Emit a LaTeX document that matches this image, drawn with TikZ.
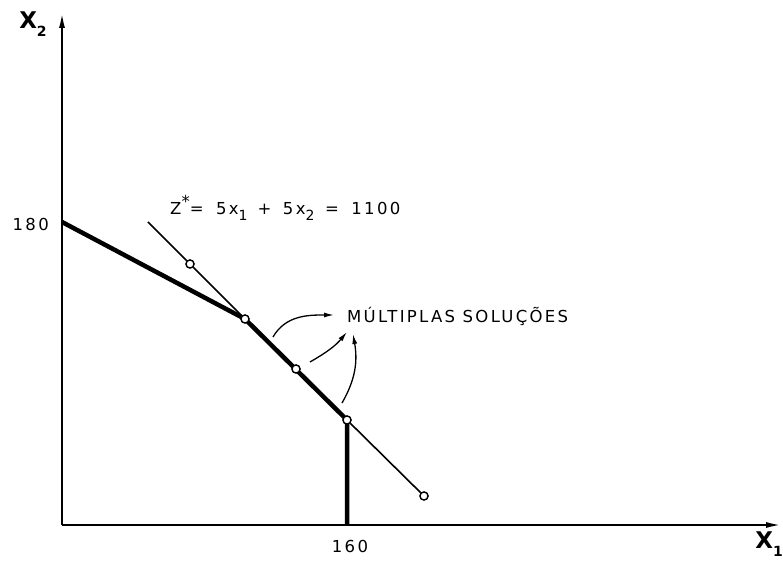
\documentclass[tikz,border=0pt]{standalone}
\usepackage{fontspec}
\setmainfont{DejaVu Sans}
\newfontfamily\plotfont[LetterSpace=14]{DejaVu Sans}
\usetikzlibrary{arrows.meta}
\newcommand\lowidx[1]{\raisebox{-0.35em}{\fontsize{14}{14}\selectfont #1}}

\begin{document}
\begin{tikzpicture}[
  x=1pt, y=1pt,
  axis/.style={-{Latex[length=16pt,width=6pt]}, line width=2.2pt},
  edge/.style={line width=4.5pt},
  obj/.style={line width=1.6pt},
  pnt/.style={circle, draw, fill=white, line width=1.3pt, inner sep=0pt,
    minimum size=8pt},
  lbl/.style={font=\plotfont\fontsize{16.5}{16.5}\selectfont, inner sep=0pt},
  axlbl/.style={font=\plotfont\bfseries\fontsize{23}{23}\selectfont, inner sep=0pt},
  arr/.style={-{Latex[length=10pt,width=5pt]}, line width=1.3pt}
]
\useasboundingbox (0,0) rectangle (783,561);
\coordinate (orig) at (62,36);
\coordinate (ytop) at (62,549);
\coordinate (xend) at (782,36);
\coordinate (cut) at (62,339);
\coordinate (foot) at (347,36);
\coordinate (zstart) at (148,339);
\node[pnt] (p1) at (190,297) {};
\node[pnt] (p2) at (245,242) {};
\node[pnt] (p3) at (296,192) {};
\node[pnt] (p4) at (347,141) {};
\node[pnt] (p5) at (424,65) {};
\draw[axis] (orig) -- (ytop);
\draw[axis] (orig) -- (xend);
\draw[obj] (zstart) -- (p1) -- (p2) -- (p3) -- (p4) -- (p5);
\draw[edge] (cut) -- (p2.center) -- (p4.center) -- (foot);
\foreach \p in {p1,p2,p3,p4,p5}
  \node[pnt] at (\p) {};
\node[axlbl] (x2) at (33,537) {X\lowidx{2}};
\node[axlbl] (x1) at (769,17) {X\lowidx{1}};
\node[lbl, anchor=east] (v180) at (49,336) {180};
\node[lbl] (v160) at (350,15) {160};
\node[lbl, anchor=west] (eq) at (170,353)
  {Z\raisebox{0.45em}{*}= \hspace{5pt}5x\lowidx{1}\hspace{10pt}+\hspace{4pt}
   5x\lowidx{2}\hspace{3pt} = \hspace{5pt}1100};
\node[lbl, anchor=west] (multi) at (347,245) {MÚLTIPLAS SOLUÇÕES};
\coordinate (a1) at (273,224);
\coordinate (a2) at (310,199);
\coordinate (a3) at (342,158);
\coordinate (b1) at (334,246);
\coordinate (b2) at (347,229);
\coordinate (b3) at (353,227);
\draw[arr] (a1) to[out=60, in=180] (b1);
\draw[arr] (a2) to[out=30, in=230] (b2);
\draw[arr] (a3) to[out=60, in=-80] (b3);
\end{tikzpicture}
\end{document}
